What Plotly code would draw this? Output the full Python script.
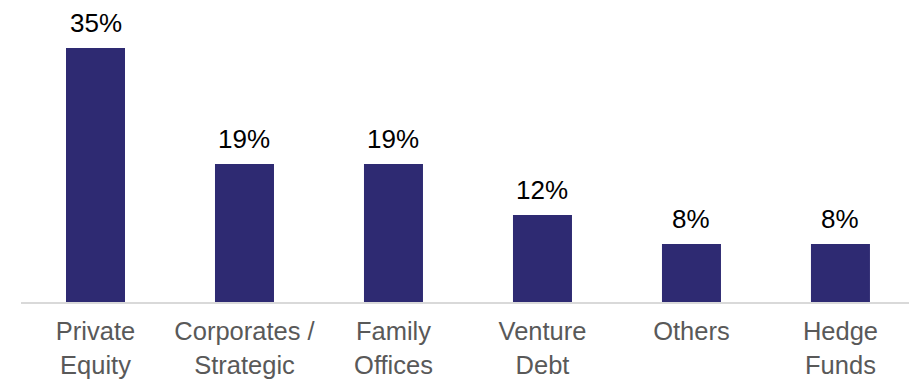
import plotly.graph_objects as go

# Share of capital by investor type
categories = ["Private<br>Equity", "Corporates /<br>Strategic", "Family<br>Offices",
              "Venture<br>Debt", "Others", "Hedge<br>Funds"]
shares = [35, 19, 19, 12, 8, 8]
value_labels = [f"{v}%" for v in shares]

BAR_COLOR = "#2E2A72"
FONT = "Liberation Sans, Arial, sans-serif"

x_idx = list(range(len(categories)))

fig = go.Figure(
    go.Bar(
        x=x_idx,
        y=shares,
        width=0.396,
        marker=dict(color=BAR_COLOR, line=dict(width=0)),
        hoverinfo="skip",
    )
)

# Percentage labels above each bar
for xi, v, lbl in zip(x_idx, shares, value_labels):
    fig.add_annotation(
        x=xi, y=v, text=lbl, showarrow=False,
        yanchor="bottom", yshift=8,
        font=dict(family=FONT, size=26, color="#000000"),
    )

fig.update_layout(
    width=909,
    height=380,
    margin=dict(l=21, r=0, t=0, b=78),
    paper_bgcolor="white",
    plot_bgcolor="white",
    showlegend=False,
    xaxis=dict(
        range=[-0.5, 5.46],
        tickmode="array",
        tickvals=x_idx,
        ticktext=categories,
        showgrid=False,
        zeroline=False,
        showline=True,
        linecolor="#D9D9D9",
        linewidth=1.5,
        ticks="",
        automargin=False,
        ticklabelstandoff=6,
        tickfont=dict(family=FONT, size=25.5, color="#595959"),
    ),
    yaxis=dict(
        range=[0, 41.6],
        visible=False,
        showgrid=False,
        zeroline=False,
    ),
)

fig.write_html("out.html")
